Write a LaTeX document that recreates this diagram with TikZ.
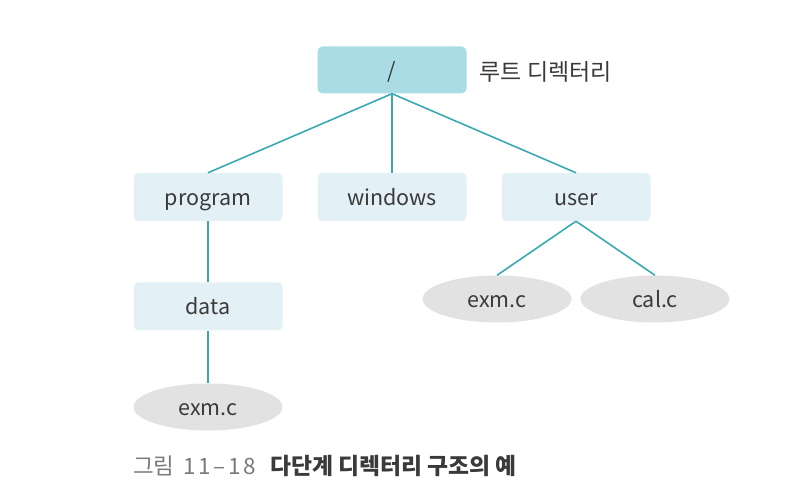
\documentclass[tikz,border=0pt]{standalone}
\usepackage{fontspec}
\setmainfont{Noto Sans CJK KR}
\usetikzlibrary{shapes.geometric}
\definecolor{rootfill}{HTML}{A9DCE4}
\definecolor{boxfill}{HTML}{E3F0F5}
\definecolor{filefill}{HTML}{E2E2E2}
\definecolor{linec}{HTML}{3AA9B2}
\definecolor{txt}{HTML}{3A3A3A}
\definecolor{capgray}{HTML}{7A7A7A}
\begin{document}
\begin{tikzpicture}[x=1pt,y=-1pt,
  lbl/.style={text=txt,font=\fontsize{21.5}{24}\selectfont,text height=21pt,text depth=4pt},
  dirbox/.style={lbl,fill=boxfill,rounded corners=5pt,minimum width=149pt,minimum height=48pt,inner sep=0pt},
  rootbox/.style={dirbox,fill=rootfill,minimum height=47pt},
  filenode/.style={lbl,ellipse,fill=filefill,minimum width=149pt,minimum height=47pt,inner sep=0pt},
  link/.style={draw=linec,line width=1.6pt},
  captxt/.style={anchor=west,inner sep=0pt,font=\fontsize{22.5}{24}\selectfont}]
\useasboundingbox (0,0) rectangle (811,502);
\node[rootbox] (root) at (392,70) {/};
\node[anchor=west,text=txt,font=\fontsize{23}{25}\selectfont] (rootlbl) at (476,72) {루트 디렉터리};
\node[dirbox] (program) at (208,197) {program};
\node[dirbox] (windows) at (392,197) {windows};
\node[dirbox] (user) at (576,197) {user};
\node[dirbox] (data) at (208,306.5) {data};
\node[filenode] (exm1) at (208,407) {exm.c};
\node[filenode] (exm2) at (497,299) {exm.c};
\node[filenode] (cal) at (655,299) {cal.c};
\draw[link] (root.south) -- (program.north);
\draw[link] (root.south) -- (windows.north);
\draw[link] (root.south) -- (user.north);
\draw[link] (program.south) -- (data.north);
\draw[link] (data.south) -- (exm1.north);
\draw[link] (user.south) -- (exm2.north);
\draw[link] (user.south) -- (cal.north);
\node[captxt,text=capgray] (capnum) at (133,466) {그림\hspace{4pt} 1\kern2.5pt1\kern2.5pt–\kern2.5pt1\kern2.5pt8};
\node[captxt,text=txt,font=\fontsize{22.8}{24}\selectfont\bfseries] (captitle) at (270,466) {다단계 디렉터리 구조의 예};
\end{tikzpicture}
\end{document}
